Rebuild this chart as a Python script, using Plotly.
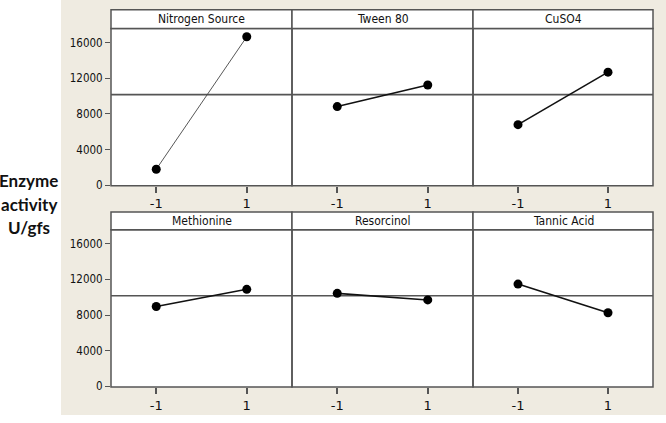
import plotly.graph_objects as go

# ---- data ----
factors = ["Nitrogen Source", "Tween 80", "CuSO4", "Methionine", "Resorcinol", "Tannic Acid"]
levels = [-1, 1]
low_level_means = [1800, 8830, 6800, 8970, 10440, 11480]
high_level_means = [16660, 11250, 12690, 10890, 9700, 8260]
grand_mean = 10170
y_tick_values = [0, 4000, 8000, 12000, 16000]
y_tick_labels = ["0", "4000", "8000", "12000", "16000"]
x_tick_labels = ["-1", "1"]
y_axis_title = ["Enzyme", "activity", "U/gfs"]

W, H = 666, 423
def px(x):
    return x / W
def py(y):
    return 1 - y / H

col_edges = [(111, 292), (292, 473), (473, 653)]
row_plot = [(29, 188.5), (233, 392.5)]
row_head = [(10, 29), (215, 233)]
LINE = "#555555"

fig = go.Figure()
shapes = []
annotations = []

# beige background
shapes.append(dict(type="rect", xref="paper", yref="paper", x0=px(61), x1=1.0,
                   y0=py(421), y1=1.0, fillcolor="#EFEBE1", line=dict(width=0), layer="below"))

for i, name in enumerate(factors):
    r, c = divmod(i, 3)
    n = i + 1
    xa = "x" if n == 1 else f"x{n}"
    ya = "y" if n == 1 else f"y{n}"
    x0, x1 = col_edges[c]
    t0, t1 = row_plot[r]
    # white plot area
    shapes.append(dict(type="rect", xref="paper", yref="paper", x0=px(x0), x1=px(x1),
                       y0=py(t1), y1=py(t0), fillcolor="white", line=dict(width=0), layer="below"))
    # mean reference line
    fig.add_trace(go.Scatter(x=[-2, 2], y=[grand_mean, grand_mean], mode="lines",
                             line=dict(color=LINE, width=1.6), xaxis=xa, yaxis=ya,
                             showlegend=False, hoverinfo="skip"))
    # main effect line
    lw = 0.9 if i == 0 else 1.6
    lc = "#444444" if i == 0 else "#111111"
    fig.add_trace(go.Scatter(x=levels, y=[low_level_means[i], high_level_means[i]],
                             mode="lines+markers",
                             line=dict(color=lc, width=lw),
                             marker=dict(color="black", size=9),
                             xaxis=xa, yaxis=ya, showlegend=False))
    xkey = "xaxis" if n == 1 else f"xaxis{n}"
    ykey = "yaxis" if n == 1 else f"yaxis{n}"
    fig.layout[xkey] = dict(domain=[px(x0), px(x1)], range=[-2, 2], anchor=ya,
                            tickvals=levels, ticktext=x_tick_labels, ticks="outside",
                            ticklen=6, tickcolor=LINE, tickwidth=1.5,
                            showline=False, showgrid=False, zeroline=False, fixedrange=True,
                            tickfont=dict(family="DejaVu Sans", size=13, color="#111111"))
    show_y = (c == 0)
    fig.layout[ykey] = dict(domain=[py(t1), py(t0)], range=[-60, 17580], anchor=xa,
                            tickvals=y_tick_values, ticktext=y_tick_labels,
                            ticks="outside" if show_y else "", ticklen=5, tickcolor=LINE,
                            tickwidth=1.2, showticklabels=show_y,
                            showline=False, showgrid=False, zeroline=False, fixedrange=True,
                            tickfont=dict(family="DejaVu Sans Condensed", size=11.5, color="#111111"))
    # panel frame
    shapes.append(dict(type="rect", xref="paper", yref="paper", x0=px(x0), x1=px(x1),
                       y0=py(t1), y1=py(t0), fillcolor="rgba(0,0,0,0)",
                       line=dict(color=LINE, width=1.5)))
    # header strip
    h0, h1 = row_head[r]
    shapes.append(dict(type="rect", xref="paper", yref="paper", x0=px(x0), x1=px(x1),
                       y0=py(h1), y1=py(h0), fillcolor="white", line=dict(color=LINE, width=1.5)))
    annotations.append(dict(xref="paper", yref="paper", x=px((x0 + x1) / 2), y=py((h0 + h1) / 2),
                            text=name, showarrow=False, xanchor="center", yanchor="middle",
                            font=dict(family="DejaVu Sans Condensed", size=12, color="#111111")))

# left title
for k, line in enumerate(y_axis_title):
    annotations.append(dict(xref="paper", yref="paper", x=px(29), y=py(183 + 24 * k),
                            text=f"<b>{line}</b>", showarrow=False, xanchor="center",
                            yanchor="middle",
                            font=dict(family="Lato", size=17, color="#111111")))

fig.update_layout(width=W, height=H, margin=dict(l=0, r=0, t=0, b=0),
                  paper_bgcolor="white", plot_bgcolor="rgba(0,0,0,0)",
                  shapes=shapes, annotations=annotations, showlegend=False)

fig.write_html("out.html", config={"displayModeBar": False},
               post_script="document.body.style.margin='0';document.body.style.overflow='hidden';")
